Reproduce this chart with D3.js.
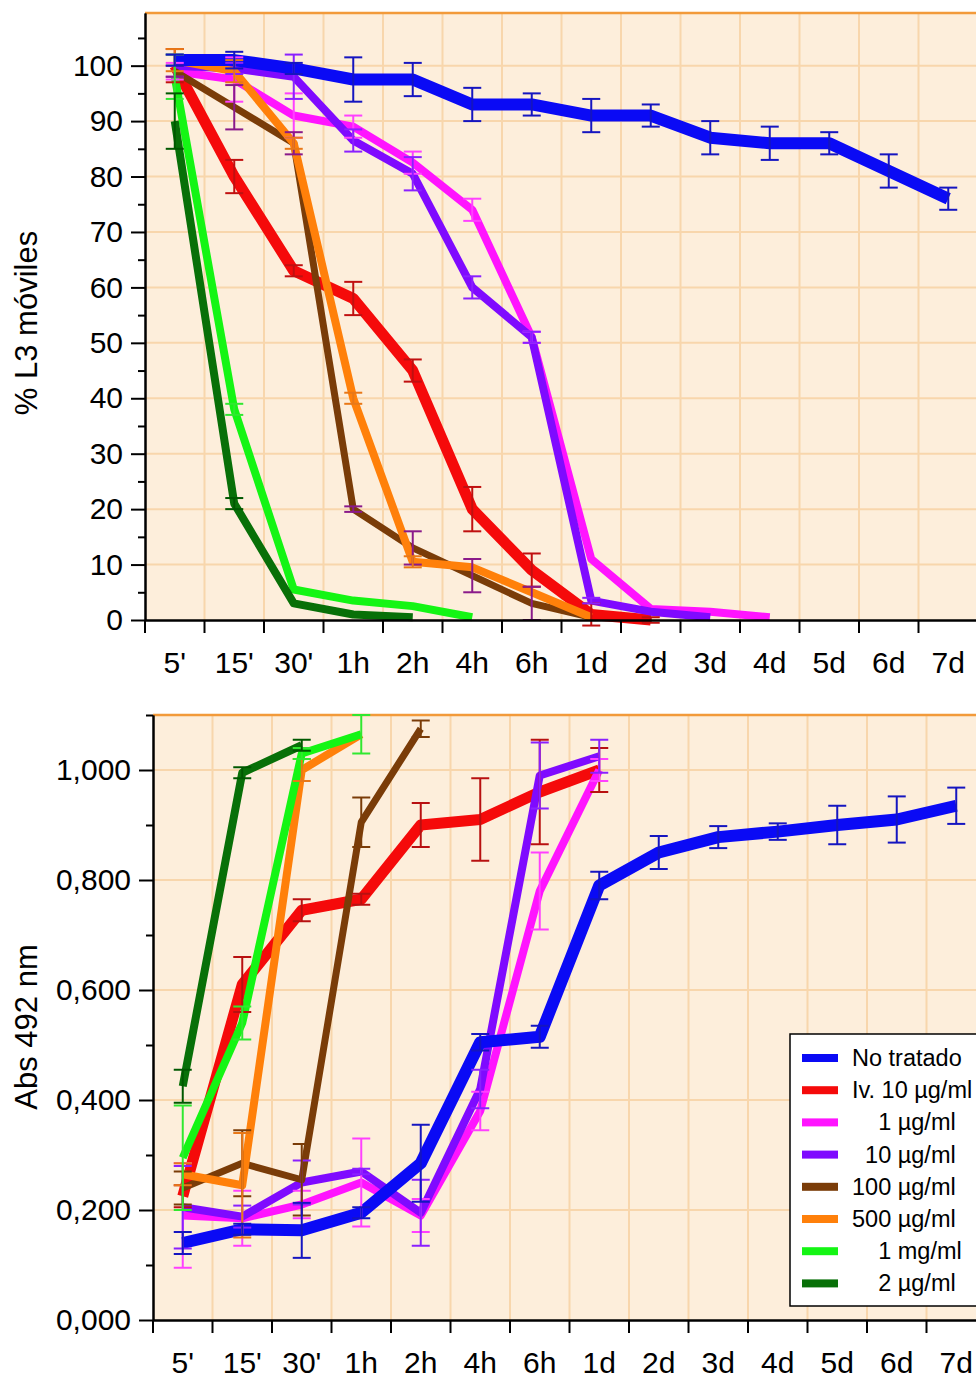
<!DOCTYPE html>
<html>
<head>
<meta charset="utf-8">
<script src="https://cdn.jsdelivr.net/npm/d3@7"></script>
<style>
  body { margin: 0; background: #fff; }
  text { font-family: "Liberation Sans", Arial, sans-serif; fill: #000; }
</style>
</head>
<body>
<script>
// time points on the x axis
var categories = ["5'", "15'", "30'", "1h", "2h", "4h", "6h", "1d", "2d", "3d", "4d", "5d", "6d", "7d"];

// series names (legend)
var seriesNames = ["No tratado", "Iv. 10 µg/ml", "\u2007\u20071 µg/ml", "\u200710 µg/ml",
  "100 µg/ml", "500 µg/ml", "\u2007\u20071 mg/ml", "\u2007\u20072 µg/ml"];

// ---- top chart: % L3 moviles ----
var motNoTratado = [101, 101, 99.5, 97.5, 97.5, 93, 93, 91, 91, 87, 86, 86, 81, 76];
var motIv10      = [100, 80, 63, 58, 45, 20, 9, 1, 0, null, null, null, null, null];
var mot1         = [99, 97.5, 91, 89, 82.5, 74, 51, 11, 2, 1.5, 0.5, null, null, null];
var mot10        = [100, 99.5, 98, 86.5, 80.5, 60, 51, 3.5, 1.5, 0.5, null, null, null, null];
var mot100       = [99, 92.5, 86, 20, 13, 8, 3, 0.5, null, null, null, null, null, null];
var mot500       = [101, 99, 86, 40, 10.5, 9.5, 5, 0.5, null, null, null, null, null, null];
var mot1mg       = [98, 38, 5.5, 3.5, 2.5, 0.5, null, null, null, null, null, null, null, null];
var mot2         = [90, 21, 3, 1, 0.5, null, null, null, null, null, null, null, null, null];

var sdNoTratado = [1, 1.5, 1, 4, 3, 3, 2, 3, 2, 3, 3, 2, 3, 2];
var sdIv10      = [3, 3, 1, 3, 2, 4, 3, 2, 0.5];
var sd1         = [1.5, 4, 4, 2, 2, 2, 1, 0, 0, 0, 0];
var sd10        = [2, 1, 4, 2, 3, 2, 1, 0.5, 0, 0];
var sd100       = [1, 4, 2, 0.5, 3, 3, 3, 0];
var sd500       = [2, 2, 1, 1, 1, 0, 0, 0];
var sd1mg       = [4, 1, 0, 0, 0, 0];
var sd2         = [5, 1, 0, 0, 0];

// ---- bottom chart: Abs 492 nm ----
var absNoTratado = [0.14, 0.165, 0.163, 0.195, 0.285, 0.505, 0.515, 0.79, 0.85, 0.878, 0.888, 0.9, 0.91, 0.935];
var absIv10      = [0.225, 0.61, 0.745, 0.765, 0.9, 0.91, 0.96, 1.0];
var abs1         = [0.19, 0.185, 0.21, 0.25, 0.19, 0.38, 0.78, 1.0];
var abs10        = [0.205, 0.188, 0.25, 0.27, 0.195, 0.42, 0.99, 1.025];
var abs100       = [0.24, 0.285, 0.255, 0.905, 1.075];
var abs500       = [0.265, 0.245, 1.0, 1.065];
var abs1mg       = [0.295, 0.54, 1.03, 1.065];
var abs2         = [0.425, 0.995, 1.045];

var sdAbsNoTratado = [0.02, 0.01, 0.05, 0.01, 0.07, 0.015, 0.02, 0.025, 0.03, 0.02, 0.015, 0.035, 0.042, 0.033];
var sdAbsIv10      = [0.02, 0.05, 0.02, 0.01, 0.04, 0.075, 0.095, 0.04];
var sdAbs1         = [0.095, 0.05, 0.025, 0.08, 0.03, 0.035, 0.07, 0.02];
var sdAbs10        = [0.075, 0.02, 0.04, 0.005, 0.06, 0.035, 0.06, 0.03];
var sdAbs100       = [0.03, 0.06, 0.065, 0.045, 0.015];
var sdAbs500       = [0.02, 0.095, 0.02, 0];
var sdAbs1mg       = [0.095, 0.03, 0.01, 0.035];
var sdAbs2         = [0.03, 0.01, 0.01];

// axis ticks
var yTicksTop = [0, 10, 20, 30, 40, 50, 60, 70, 80, 90, 100];
var yMinorTop = [5, 15, 25, 35, 45, 55, 65, 75, 85, 95, 105];
var yTicksBottom = [0, 0.2, 0.4, 0.6, 0.8, 1.0];
var yMinorBottom = [0.1, 0.3, 0.5, 0.7, 0.9, 1.1];

// styles
var lineColors = ["#0a0af5", "#f50a0a", "#ff14ff", "#7f0aff", "#7a3c08", "#ff800a", "#14f514", "#087008"];
var barColorsTop = ["#1515c0", "#c01010", "#ff40ff", "#8a20ff", "#8a1a8a", "#e87818", "#30e830", "#005800"];
var barColorsBottom = ["#1515c0", "#b81010", "#ff40ff", "#8a20ff", "#7a3c08", "#e87818", "#30e830", "#005800"];
var lineWidths = [12, 11, 8, 8, 7, 8, 8, 8];
var drawOrder = [1, 2, 3, 4, 5, 6, 7, 0];

var svgWidth = 976;
var svgHeight = 1379;
var bandStep = 59.5;

var svg = d3.select("body").append("svg")
  .attr("width", svgWidth)
  .attr("height", svgHeight);

function drawPanel(p) {
  var g = svg.append("g");

  var x = d3.scaleBand()
    .domain(categories)
    .range([p.left, p.left + bandStep * categories.length]);
  var half = x.bandwidth() / 2;

  var y = d3.scaleLinear()
    .domain([0, p.yMax])
    .range([p.bottom, p.top]);

  // plot background
  g.append("rect")
    .attr("x", p.left)
    .attr("y", p.top)
    .attr("width", svgWidth - p.left + 20)
    .attr("height", p.bottom - p.top)
    .attr("fill", "#fdeedb");

  // grid
  g.selectAll(".hgrid")
    .data(p.grid)
    .enter()
    .append("line")
    .attr("x1", p.left)
    .attr("x2", svgWidth + 20)
    .attr("y1", d => y(d))
    .attr("y2", d => y(d))
    .attr("stroke", "#f8d6ac")
    .attr("stroke-width", 2);

  g.selectAll(".vgrid")
    .data(categories.slice(1))
    .enter()
    .append("line")
    .attr("x1", d => x(d))
    .attr("x2", d => x(d))
    .attr("y1", p.top)
    .attr("y2", p.bottom)
    .attr("stroke", "#f8d6ac")
    .attr("stroke-width", 2);

  // top border
  g.append("line")
    .attr("x1", p.left)
    .attr("x2", svgWidth + 20)
    .attr("y1", p.top)
    .attr("y2", p.top)
    .attr("stroke", "#f29a3a")
    .attr("stroke-width", 2.5);

  // lines
  var line = d3.line()
    .defined(d => d != null)
    .x((d, i) => x(categories[i]) + half)
    .y(d => y(d));

  drawOrder.forEach(function(s) {
    var vals = categories.map((c, i) => p.values[s][i] == null ? null : p.values[s][i]);
    g.append("path")
      .attr("d", line(vals))
      .attr("fill", "none")
      .attr("stroke", lineColors[s])
      .attr("stroke-width", lineWidths[s])
      .attr("stroke-linejoin", "round");
  });

  // error bars
  drawOrder.forEach(function(s) {
    var pts = [];
    p.values[s].forEach(function(v, i) {
      var e = p.sds[s][i];
      if (v != null && e) pts.push({ cat: categories[i], lo: v - e, hi: v + e });
    });
    var eg = g.append("g")
      .attr("stroke", p.barColors[s])
      .attr("stroke-width", 2);
    eg.selectAll(".ev")
      .data(pts)
      .enter()
      .append("line")
      .attr("x1", d => x(d.cat) + half)
      .attr("x2", d => x(d.cat) + half)
      .attr("y1", d => y(d.lo))
      .attr("y2", d => y(d.hi));
    eg.selectAll(".ecap")
      .data(pts.flatMap(d => [{ cat: d.cat, v: d.lo }, { cat: d.cat, v: d.hi }]))
      .enter()
      .append("line")
      .attr("x1", d => x(d.cat) + half - 9)
      .attr("x2", d => x(d.cat) + half + 9)
      .attr("y1", d => y(d.v))
      .attr("y2", d => y(d.v));
  });

  // left axis
  var leftAxis = d3.axisLeft(y)
    .tickValues(p.ticks)
    .tickSize(14)
    .tickSizeOuter(0)
    .tickPadding(8)
    .tickFormat(p.fmt);
  var ga = g.append("g")
    .attr("transform", `translate(${p.left}, 0)`)
    .call(leftAxis);
  ga.selectAll("text").style("font-size", "30px");
  ga.selectAll("line, path").attr("stroke", "#000").attr("stroke-width", 2);

  var gm = g.append("g")
    .attr("transform", `translate(${p.left}, 0)`)
    .call(d3.axisLeft(y).tickValues(p.minor).tickSize(7).tickSizeOuter(0).tickFormat(""));
  gm.selectAll("line, path").attr("stroke", "#000").attr("stroke-width", 2);

  // bottom axis
  var bottomAxis = d3.axisBottom(x)
    .tickSize(0)
    .tickSizeOuter(0)
    .tickPadding(32);
  var gb = g.append("g")
    .attr("transform", `translate(0, ${p.bottom})`)
    .call(bottomAxis);
  gb.selectAll("text").style("font-size", "30px");
  gb.select("path").attr("stroke", "#000").attr("stroke-width", 2.5);

  g.selectAll(".xtick")
    .data(categories)
    .enter()
    .append("line")
    .attr("x1", d => x(d))
    .attr("x2", d => x(d))
    .attr("y1", p.bottom)
    .attr("y2", p.bottom + 13)
    .attr("stroke", "#000")
    .attr("stroke-width", 2);

  // axis title
  g.append("text")
    .attr("transform", `translate(26, ${p.titleY}) rotate(-90)`)
    .attr("text-anchor", "middle")
    .attr("dominant-baseline", "central")
    .style("font-size", "31px")
    .text(p.title);

  return { x: x, y: y, g: g };
}

drawPanel({
  top: 13, bottom: 620, left: 145, yMax: 109.5,
  ticks: yTicksTop, minor: yMinorTop, grid: yTicksTop.slice(1),
  fmt: d => d,
  values: [motNoTratado, motIv10, mot1, mot10, mot100, mot500, mot1mg, mot2],
  sds: [sdNoTratado, sdIv10, sd1, sd10, sd100, sd500, sd1mg, sd2],
  barColors: barColorsTop,
  title: "% L3 móviles", titleY: 323
});

drawPanel({
  top: 715, bottom: 1320, left: 153, yMax: 1.1,
  ticks: yTicksBottom, minor: yMinorBottom, grid: yTicksBottom.slice(1),
  fmt: d => d.toFixed(3).replace(".", ","),
  values: [absNoTratado, absIv10, abs1, abs10, abs100, abs500, abs1mg, abs2],
  sds: [sdAbsNoTratado, sdAbsIv10, sdAbs1, sdAbs10, sdAbs100, sdAbs500, sdAbs1mg, sdAbs2],
  barColors: barColorsBottom,
  title: "Abs 492 nm", titleY: 1027
});

// legend
var legend = svg.append("g").attr("transform", "translate(790, 1034)");
legend.append("rect")
  .attr("width", 220)
  .attr("height", 272)
  .attr("fill", "#fff")
  .attr("stroke", "#000")
  .attr("stroke-width", 1.5);

var rows = legend.selectAll(".row")
  .data(seriesNames)
  .enter()
  .append("g")
  .attr("transform", (d, i) => `translate(0, ${24 + i * 32.2})`);

rows.append("rect")
  .attr("x", 12)
  .attr("y", -4)
  .attr("width", 36)
  .attr("height", 8)
  .attr("fill", (d, i) => lineColors[i]);

rows.append("text")
  .attr("x", 62)
  .attr("dominant-baseline", "central")
  .style("font-size", "23.5px")
  .style("white-space", "pre")
  .text(d => d);
</script>
</body>
</html>
